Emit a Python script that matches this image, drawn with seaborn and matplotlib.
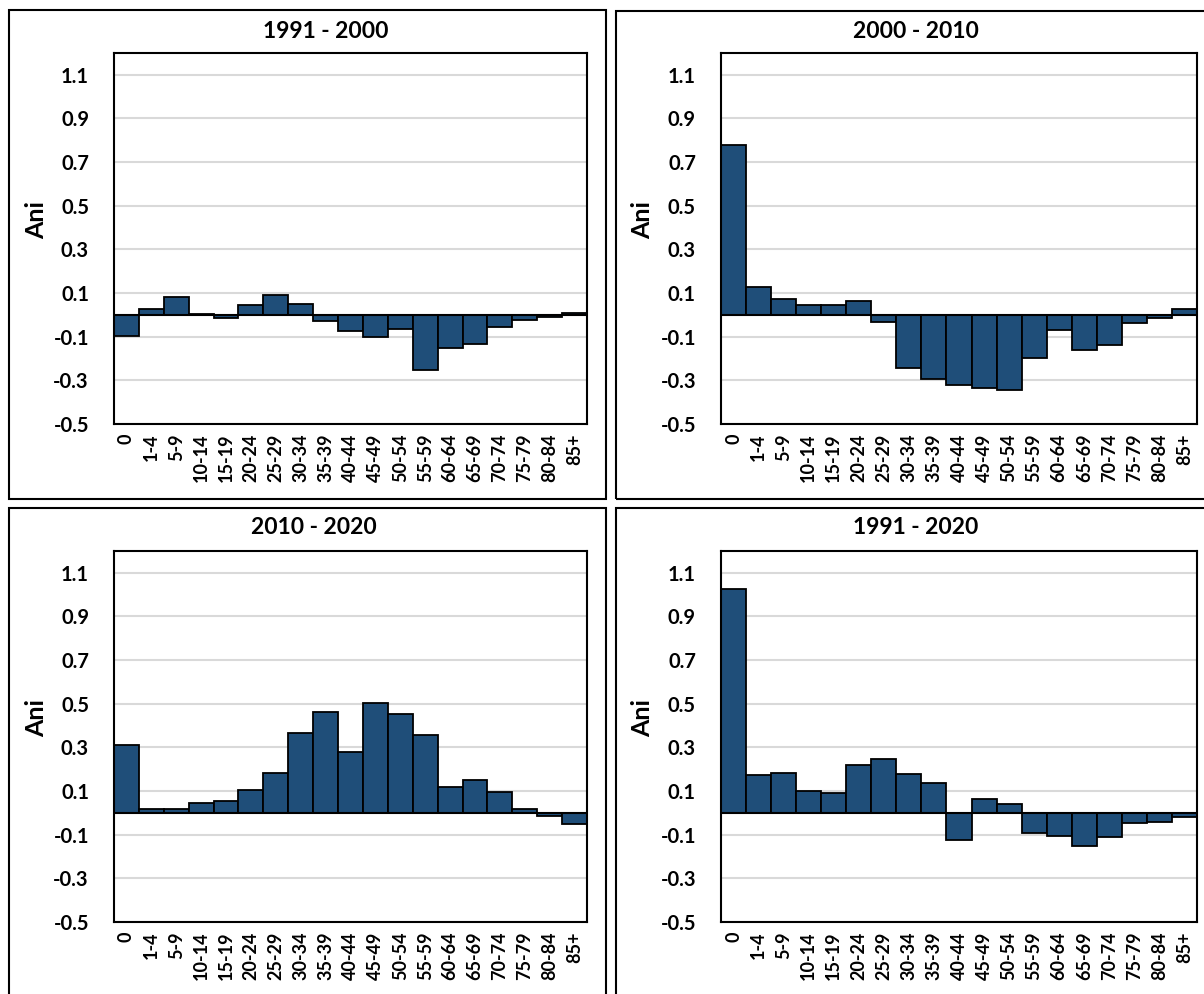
import numpy as np
import pandas as pd
import matplotlib
matplotlib.use("Agg")
import matplotlib.pyplot as plt
import seaborn as sns
from matplotlib.patches import Rectangle

# Age groups and values (Ani) per period
age_groups = ["0", "1-4", "5-9", "10-14", "15-19", "20-24", "25-29", "30-34", "35-39",
              "40-44", "45-49", "50-54", "55-59", "60-64", "65-69", "70-74", "75-79",
              "80-84", "85+"]

vals_1991_2000 = [-0.095, 0.026, 0.084, 0.006, -0.012, 0.044, 0.089, 0.050, -0.029,
                  -0.072, -0.101, -0.063, -0.252, -0.153, -0.133, -0.057, -0.023,
                  -0.009, 0.008]
vals_2000_2010 = [0.778, 0.127, 0.073, 0.046, 0.047, 0.063, -0.031, -0.242, -0.295,
                  -0.320, -0.333, -0.344, -0.196, -0.067, -0.161, -0.136, -0.035,
                  -0.015, 0.028]
vals_2010_2020 = [0.312, 0.018, 0.020, 0.047, 0.054, 0.105, 0.182, 0.367, 0.463,
                  0.278, 0.502, 0.453, 0.356, 0.118, 0.151, 0.095, 0.017,
                  -0.012, -0.049]
vals_1991_2020 = [1.027, 0.175, 0.183, 0.102, 0.090, 0.221, 0.248, 0.178, 0.139,
                  -0.123, 0.064, 0.041, -0.094, -0.105, -0.152, -0.110, -0.046,
                  -0.043, -0.021]

titles = ["1991 - 2000", "2000 - 2010", "2010 - 2020", "1991 - 2020"]
y_ticks = [-0.5, -0.3, -0.1, 0.1, 0.3, 0.5, 0.7, 0.9, 1.1]

sns.set_theme(style="white")
plt.rcParams['font.family'] = ['Lato', 'DejaVu Sans']
plt.rcParams['font.weight'] = 'bold'
plt.rcParams['axes.labelweight'] = 'bold'

W, H = 1204, 994
fig = plt.figure(figsize=(W / 100, H / 100), dpi=100)

# pixel layout: (box x0, y0, x1, y1), (plot x0, y0, x1, y1), title centre x, y
layout = [
    ((9, 10, 606, 499), (114, 53, 587, 424), 326, 31),
    ((616, 11, 1212, 499), (721, 53, 1197, 424), 916, 31),
    ((9, 508, 606, 1002), (114, 551, 587, 922), 314, 528),
    ((616, 508, 1212, 1002), (721, 551, 1197, 922), 916, 528),
]

series = [vals_1991_2000, vals_2000_2010, vals_2010_2020, vals_1991_2020]

for title, vals, (box, plot, tx, ty) in zip(titles, series, layout):
    bx0, by0, bx1, by1 = box
    fig.patches.append(Rectangle((bx0 / W, 1 - by1 / H), (bx1 - bx0) / W, (by1 - by0) / H,
                                 transform=fig.transFigure, fill=False,
                                 edgecolor="black", linewidth=1.5, zorder=0))

    px0, py0, px1, py1 = plot
    ax = fig.add_axes([px0 / W, 1 - py1 / H, (px1 - px0) / W, (py1 - py0) / H])

    df = pd.DataFrame({"Grupa": age_groups, "Ani": vals})
    sns.barplot(data=df, x="Grupa", y="Ani", color="#1F4E79", saturation=1,
                width=1, edgecolor="black", linewidth=1.3, ax=ax, zorder=3)

    ax.set_xlim(-0.5, len(age_groups) - 0.5)
    ax.set_ylim(-0.5, 1.2)
    ax.set_yticks(y_ticks)
    ax.set_yticklabels([f"{t:.1f}" for t in y_ticks])
    ax.grid(axis="y", color="#D9D9D9", linewidth=1.5, zorder=0)
    ax.grid(axis="x", visible=False)
    ax.axhline(0, color="black", linewidth=1.5, zorder=4)

    for sp in ax.spines.values():
        sp.set_color("black")
        sp.set_linewidth(1.5)
        sp.set_zorder(5)

    ax.tick_params(axis="y", length=0, pad=18, labelsize=14.5, labelcolor="black")
    ax.tick_params(axis="x", length=0, pad=7, labelsize=13, labelrotation=90,
                   labelcolor="black")

    ax.set_xlabel("")
    ax.set_ylabel("Ani", fontsize=18, color="black")
    ax.yaxis.set_label_coords(-0.14, 0.55)

    fig.text(tx / W, 1 - ty / H, title, ha="center", va="center",
             fontsize=16.5, fontweight="bold", color="black")

fig.savefig("out.png", dpi=100, facecolor="white")
